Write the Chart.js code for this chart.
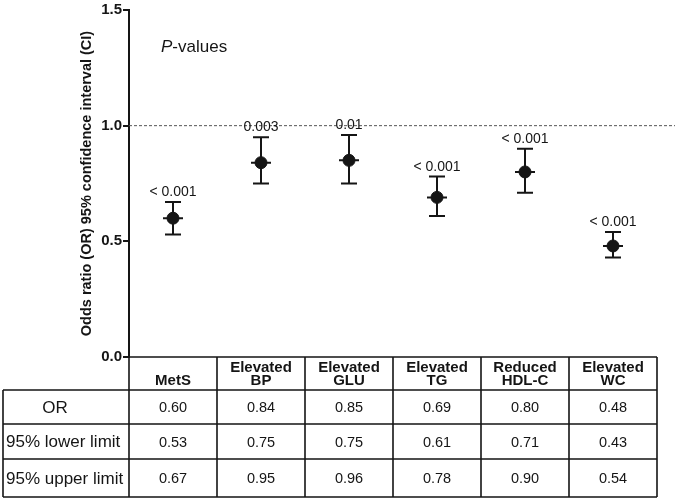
<!DOCTYPE html>
<html>
<head>
<meta charset="utf-8">
<script src="https://cdn.jsdelivr.net/npm/chart.js@4.4.1/dist/chart.umd.min.js"></script>
<style>
  body { margin: 0; background: #fff; }
  canvas { display: block; }
</style>
</head>
<body>
<canvas id="orChart" width="675" height="500"></canvas>
<script>
// data
const categories = [['MetS'], ['Elevated', 'BP'], ['Elevated', 'GLU'], ['Elevated', 'TG'], ['Reduced', 'HDL-C'], ['Elevated', 'WC']];
const orValues = [0.60, 0.84, 0.85, 0.69, 0.80, 0.48];
const lowerLimits = [0.53, 0.75, 0.75, 0.61, 0.71, 0.43];
const upperLimits = [0.67, 0.95, 0.96, 0.78, 0.90, 0.54];
const pValues = ['< 0.001', '0.003', '0.01', '< 0.001', '< 0.001', '< 0.001'];
const yTicks = [0, 0.5, 1.0, 1.5];
const refLine = 1.0;
const rowLabels = ['OR', '95% lower limit', '95% upper limit'];
const tableRows = [orValues, lowerLimits, upperLimits];

const FONT = "'Liberation Sans', Arial, sans-serif";
const INK = '#151515';

// whiskers, dashed line at OR = 1 and p-value labels
const errorBars = {
    id: 'errorBars',
    beforeDatasetsDraw(chart) {
        const ctx = chart.ctx;
        const x = chart.scales.x, y = chart.scales.y;
        const area = chart.chartArea;
        ctx.save();
        // reference line
        ctx.strokeStyle = '#555';
        ctx.lineWidth = 1;
        ctx.setLineDash([3, 2]);
        ctx.beginPath();
        ctx.moveTo(area.left, y.getPixelForValue(refLine));
        ctx.lineTo(chart.width, y.getPixelForValue(refLine));
        ctx.stroke();
        ctx.setLineDash([]);

        ctx.strokeStyle = INK;
        ctx.lineWidth = 2;
        orValues.forEach((v, i) => {
            const px = x.getPixelForValue(i);
            const lo = y.getPixelForValue(lowerLimits[i]);
            const hi = y.getPixelForValue(upperLimits[i]);
            const mid = y.getPixelForValue(v);
            ctx.beginPath();
            ctx.moveTo(px, lo); ctx.lineTo(px, hi);
            ctx.moveTo(px - 8, lo); ctx.lineTo(px + 8, lo);
            ctx.moveTo(px - 8, hi); ctx.lineTo(px + 8, hi);
            ctx.moveTo(px - 10, mid); ctx.lineTo(px + 10, mid);
            ctx.stroke();
        });
        ctx.restore();
    },
    afterDatasetsDraw(chart) {
        const ctx = chart.ctx;
        const x = chart.scales.x, y = chart.scales.y;
        const area = chart.chartArea;
        ctx.save();
        ctx.fillStyle = INK;
        ctx.font = '14px ' + FONT;
        ctx.textAlign = 'center';
        ctx.textBaseline = 'alphabetic';
        pValues.forEach((p, i) => {
            ctx.fillText(p, x.getPixelForValue(i), y.getPixelForValue(upperLimits[i]) - 6);
        });

        // "P-values" heading
        ctx.textAlign = 'left';
        ctx.font = 'italic 17px ' + FONT;
        const px = area.left + 32, py = area.top + 42;
        ctx.fillText('P', px, py);
        const w = ctx.measureText('P').width;
        ctx.font = '17px ' + FONT;
        ctx.fillText('-values', px + w, py);
        ctx.restore();
    }
};

// table under the plot, columns follow the category scale
const dataTable = {
    id: 'dataTable',
    afterDraw(chart) {
        const ctx = chart.ctx;
        const x = chart.scales.x;
        const area = chart.chartArea;
        const step = (area.right - area.left) / categories.length;
        const top = area.bottom;
        const rowsY = [top, top + 33, top + 67, top + 102, top + 140];
        const leftEdge = 3;
        ctx.save();
        ctx.strokeStyle = INK;
        ctx.lineWidth = 1.6;
        ctx.beginPath();
        // top line of header
        ctx.moveTo(area.left, top); ctx.lineTo(area.right, top);
        for (let r = 1; r < rowsY.length; r++) {
            ctx.moveTo(leftEdge, rowsY[r]); ctx.lineTo(area.right, rowsY[r]);
        }
        for (let c = 0; c <= categories.length; c++) {
            const cx = area.left + c * step;
            ctx.moveTo(cx, top); ctx.lineTo(cx, rowsY[rowsY.length - 1]);
        }
        ctx.moveTo(leftEdge, rowsY[1]); ctx.lineTo(leftEdge, rowsY[rowsY.length - 1]);
        ctx.stroke();

        ctx.fillStyle = INK;
        // header
        ctx.font = 'bold 15px ' + FONT;
        ctx.textAlign = 'center';
        ctx.textBaseline = 'alphabetic';
        categories.forEach((lines, i) => {
            const cx = x.getPixelForValue(i);
            lines.forEach((t, k) => {
                ctx.fillText(t, cx, rowsY[1] - 5 - (lines.length - 1 - k) * 13.5);
            });
        });
        // body
        ctx.textBaseline = 'middle';
        tableRows.forEach((vals, r) => {
            const cy = (rowsY[r + 1] + rowsY[r + 2]) / 2 + 1;
            ctx.font = '14.5px ' + FONT;
            ctx.textAlign = 'center';
            vals.forEach((v, i) => ctx.fillText(v.toFixed(2), x.getPixelForValue(i), cy));
            ctx.font = '17px ' + FONT;
            if (r === 0) {
                ctx.fillText(rowLabels[r], 55, cy);
            } else {
                ctx.textAlign = 'left';
                ctx.fillText(rowLabels[r], leftEdge + 3, cy);
            }
        });
        ctx.restore();
    }
};

const data = {
    labels: categories,
    datasets: [{
        label: 'OR',
        data: orValues,
        showLine: false,
        pointRadius: 6,
        pointHoverRadius: 6,
        pointBackgroundColor: INK,
        pointBorderColor: INK
    }]
};

const options = {
    responsive: false,
    animation: false,
    layout: { padding: { left: 0, right: 18, top: 6, bottom: 143 } },
    plugins: { legend: { display: false }, tooltip: { enabled: false } },
    scales: {
        x: {
            type: 'category',
            offset: true,
            display: false
        },
        y: {
            min: 0,
            max: 1.5,
            afterFit(scale) { scale.width = 129; },
            afterBuildTicks(scale) { scale.ticks = yTicks.map(v => ({ value: v })); },
            border: { display: true, color: INK, width: 2 },
            grid: { drawOnChartArea: false, drawTicks: true, tickLength: 6, color: INK, lineWidth: 2 },
            ticks: {
                padding: 1,
                color: INK,
                font: { family: FONT, size: 15, weight: 'bold' },
                callback: v => Number(v).toFixed(1)
            },
            title: {
                display: true,
                text: 'Odds ratio (OR) 95% confidence interval (CI)',
                align: 'center',
                color: INK,
                padding: { top: 78, bottom: 0 },
                font: { family: FONT, size: 14.5, weight: 'bold' }
            }
        }
    }
};

const ctx = document.getElementById('orChart').getContext('2d');
new Chart(ctx, { type: 'line', data: data, options: options, plugins: [errorBars, dataTable] });
</script>
</body>
</html>
